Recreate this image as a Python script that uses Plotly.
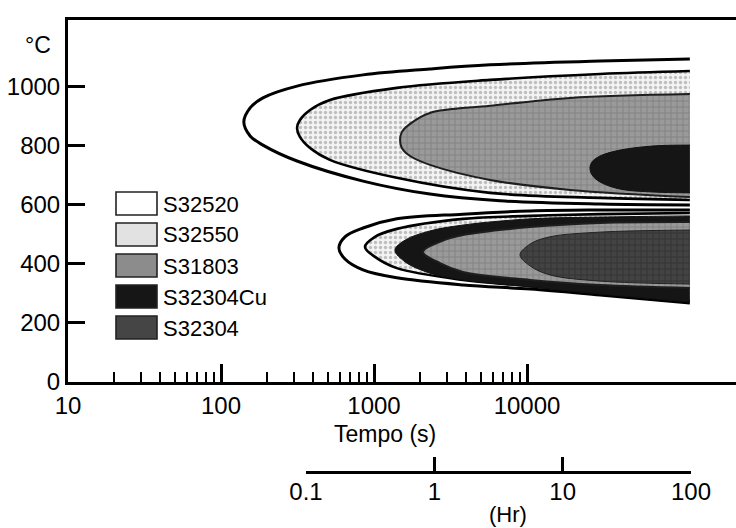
import plotly.graph_objects as go

# ---------------- data (time in seconds, temperature in °C) ----------------
LEGEND_NAMES = ["S32520", "S32550", "S31803", "S32304Cu", "S32304"]

X_TICKS = [10, 100, 1000, 10000]
X_TICK_LABELS = ["10", "100", "1000", "10000"]
X_MINOR = [20, 30, 40, 50, 60, 70, 80, 90,
           200, 300, 400, 500, 600, 700, 800, 900,
           2000, 3000, 4000, 5000, 6000, 7000, 8000, 9000]
Y_TICKS = [0, 200, 400, 600, 800, 1000]
HR_TICKS = [0.1, 1, 10, 100]
HR_TICK_LABELS = ["0.1", "1", "10", "100"]

# upper nose - outlines
UP_S32520_T = [116000, 30000, 5730, 2320, 848, 314, 188, 155, 141, 155, 188, 314, 848, 2320, 6670, 30000, 116000]
UP_S32520_C = [1095, 1088, 1075, 1061, 1041, 1003, 963, 929, 881, 834, 803, 749, 681, 637, 614, 603, 600]

UP_S32550_T = [116000, 30000, 5730, 1410, 515, 382, 328, 314, 328, 382, 515, 1410, 5730, 30000, 116000]
UP_S32550_C = [1054, 1044, 1024, 997, 956, 922, 888, 861, 831, 793, 753, 692, 641, 624, 617]

UP_S31803_T = [116000, 19100, 5730, 2320, 1720, 1520, 1480, 1520, 1720, 2320, 5730, 19100, 116000]
UP_S31803_C = [976, 963, 936, 912, 875, 847, 820, 793, 766, 736, 685, 651, 627]

UP_S32304CU_T = [116000, 66700, 40500, 30000, 26600, 25800, 26600, 30000, 40500, 66700, 116000]
UP_S32304CU_C = [803, 800, 786, 766, 746, 725, 702, 678, 654, 644, 641]

# lower nose
LO_S32520_T = [116000, 30000, 10500, 3820, 1410, 848, 646, 590, 646, 848, 1410, 3820, 10500, 30000, 116000]
LO_S32520_C = [583, 583, 580, 569, 553, 522, 492, 454, 417, 380, 353, 329, 315, 295, 268]

LO_S32550_T = [116000, 30000, 10500, 3820, 1410, 1015, 873, 1015, 1410, 3820, 10500, 30000, 116000]
LO_S32550_C = [573, 569, 563, 553, 519, 492, 458, 424, 386, 346, 325, 302, 275]

LO_S32304CU_T = [116000, 30000, 10500, 3820, 2320, 1600, 1370, 1600, 2320, 3820, 10500, 30000, 116000]
LO_S32304CU_C = [563, 559, 553, 532, 512, 481, 447, 407, 369, 346, 322, 298, 271]

LO_S31803_T = [116000, 30000, 10500, 3820, 2700, 2090, 2700, 3820, 10500, 30000, 116000]
LO_S31803_C = [542, 539, 525, 498, 475, 441, 403, 373, 346, 329, 319]

LO_S32304_T = [116000, 30000, 14100, 10500, 9000, 10500, 14100, 30000, 116000]
LO_S32304_C = [515, 508, 492, 468, 431, 393, 363, 342, 332]

# ---------------- styles ----------------
STYLE = {
    "S32520": dict(fillcolor="white", line=dict(color="black", width=3), pattern=None, swatch="white"),
    "S32550": dict(fillcolor="#f2f2f2", line=dict(color="black", width=2.6),
                   pattern=dict(shape=".", bgcolor="#f3f3f3", fgcolor="#8a8a8a", size=5, solidity=0.35),
                   swatch="#e2e2e2"),
    "S31803": dict(fillcolor="#8e8e8e", line=dict(color="#1e1e1e", width=2),
                   pattern=dict(shape="+", bgcolor="#9a9a9a", fgcolor="#6a6a6a", size=6, solidity=0.3),
                   swatch="#8c8c8c"),
    "S32304Cu": dict(fillcolor="#151515", line=dict(color="#111111", width=1), pattern=None, swatch="#161616"),
    "S32304": dict(fillcolor="#3e3e3e", line=dict(color="#222222", width=1),
                   pattern=dict(shape="+", bgcolor="#434343", fgcolor="#242424", size=6, solidity=0.3),
                   swatch="#454545"),
}

LAYERS = [
    ("S32520", UP_S32520_T, UP_S32520_C),
    ("S32550", UP_S32550_T, UP_S32550_C),
    ("S31803", UP_S31803_T, UP_S31803_C),
    ("S32304Cu", UP_S32304CU_T, UP_S32304CU_C),
    ("S32520", LO_S32520_T, LO_S32520_C),
    ("S32550", LO_S32550_T, LO_S32550_C),
    ("S32304Cu", LO_S32304CU_T, LO_S32304CU_C),
    ("S31803", LO_S31803_T, LO_S31803_C),
    ("S32304", LO_S32304_T, LO_S32304_C),
]

FONT = "Liberation Sans, Arial, Helvetica, sans-serif"
W, H = 736, 528
ML, MR, MT, MB = 68, 0, 20, 28
PW, PH = W - ML - MR, H - MT - MB


def px(x):
    return (x - ML) / PW


def py(y):
    return (H - MB - y) / PH


fig = go.Figure()
for name, t, c in LAYERS:
    st = STYLE[name]
    kw = dict(x=t, y=c, mode="lines", fill="toself", fillcolor=st["fillcolor"],
              line=dict(color=st["line"]["color"], width=st["line"]["width"], shape="spline", smoothing=1.0),
              name=name, showlegend=False, hoverinfo="skip")
    if st["pattern"] is not None:
        kw["fillpattern"] = st["pattern"]
    fig.add_trace(go.Scatter(**kw))

# carrier trace for the secondary (hours) axis
fig.add_trace(go.Scatter(x=HR_TICKS, y=[None] * len(HR_TICKS), xaxis="x2", yaxis="y",
                         mode="lines", showlegend=False, hoverinfo="skip"))

# legend drawn as swatches + labels
shapes, annotations = [], []
box_top0, step = 192, 31
for i, name in enumerate(LEGEND_NAMES):
    top = box_top0 + i * step
    shapes.append(dict(type="rect", xref="paper", yref="paper",
                       x0=px(116), x1=px(157), y0=py(top + 23), y1=py(top),
                       fillcolor=STYLE[name]["swatch"], line=dict(color="#222222", width=1.6)))
    annotations.append(dict(text=name, xref="paper", yref="paper", x=px(161), y=py(top + 12),
                            xanchor="left", yanchor="middle", showarrow=False,
                            font=dict(family=FONT, size=22, color="black")))

annotations += [
    dict(text="°C", xref="paper", yref="paper", x=px(38), y=py(45), xanchor="center", yanchor="middle",
         showarrow=False, font=dict(family=FONT, size=23, color="black")),
    dict(text="Tempo (s)", xref="paper", yref="paper", x=px(385), y=py(434), xanchor="center",
         yanchor="middle", showarrow=False, font=dict(family=FONT, size=23, color="black")),
    dict(text="(Hr)", xref="paper", yref="paper", x=px(508), y=py(514), xanchor="center",
         yanchor="middle", showarrow=False, font=dict(family=FONT, size=22, color="black")),
]

main_y_bottom = 382
fig.update_layout(
    width=W, height=H,
    margin=dict(l=ML, r=MR, t=MT, b=MB, pad=0),
    paper_bgcolor="white", plot_bgcolor="rgba(0,0,0,0)",
    showlegend=False,
    font=dict(family=FONT, size=24, color="black"),
    shapes=shapes, annotations=annotations,
    xaxis=dict(type="log", range=[1, 5.366], domain=[0, 1], anchor="y",
               showline=True, linewidth=3, linecolor="black", mirror=True,
               ticks="inside", ticklen=18, tickwidth=2.5, tickcolor="black",
               tickmode="array", tickvals=X_TICKS, ticktext=X_TICK_LABELS,
               tickfont=dict(family=FONT, size=24, color="black"), ticklabelstandoff=0,
               minor=dict(tickmode="array", tickvals=X_MINOR, ticks="inside", ticklen=10,
                          tickwidth=2, tickcolor="black", showgrid=False),
               showgrid=False, zeroline=False, automargin=False),
    yaxis=dict(range=[0, 1227], domain=[py(main_y_bottom), 1], anchor="x",
               showline=True, linewidth=3, linecolor="black",
               ticks="inside", ticklen=17, tickwidth=3, tickcolor="black",
               tickmode="array", tickvals=Y_TICKS,
               tickfont=dict(family=FONT, size=24, color="black"),
               showgrid=False, zeroline=False, automargin=False),
    xaxis2=dict(type="log", range=[-1, 2], domain=[px(306), px(691)], anchor="free", position=py(472),
                showline=True, linewidth=2.5, linecolor="black",
                ticks="inside", ticklen=14, tickwidth=2.5, tickcolor="black",
                tickmode="array", tickvals=HR_TICKS, ticktext=HR_TICK_LABELS,
                tickfont=dict(family=FONT, size=24, color="black"), ticklabelstandoff=-3,
                showgrid=False, zeroline=False, automargin=False),
)

fig.write_html(
    "out.html",
    config={"responsive": False, "displayModeBar": False},
    post_script=("document.body.style.margin='0';document.body.style.padding='0';"
                 "document.body.style.overflow='hidden';"
                 "document.documentElement.style.overflow='hidden';"),
)
